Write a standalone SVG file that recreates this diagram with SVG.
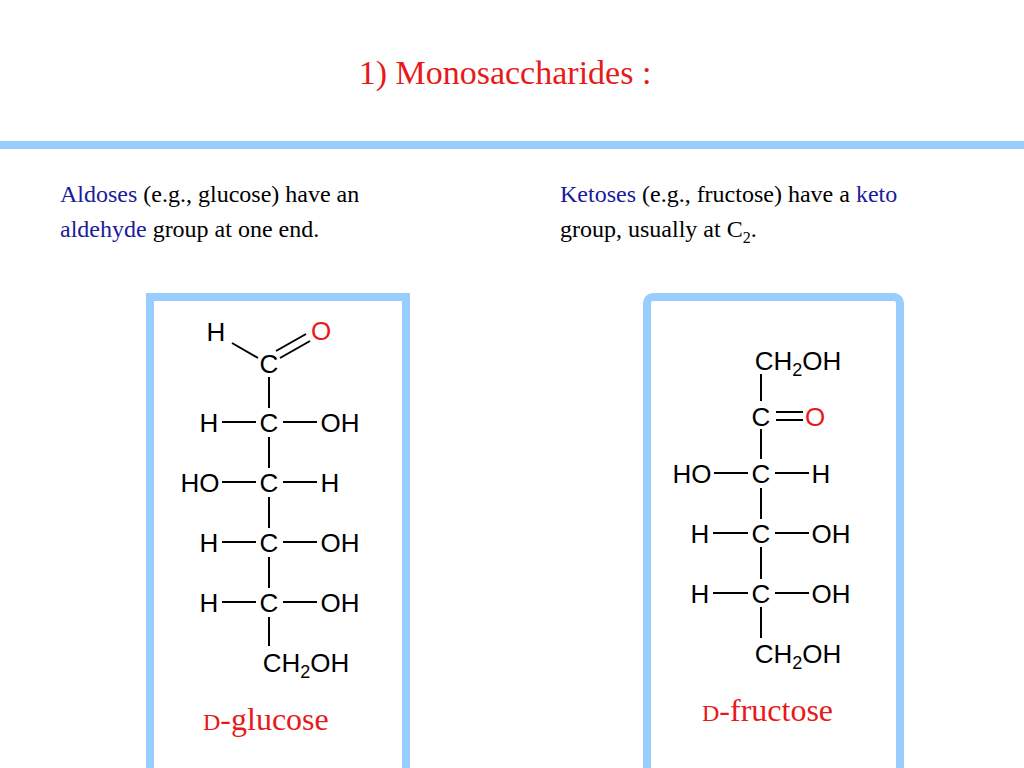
<svg xmlns="http://www.w3.org/2000/svg" width="1024" height="768" viewBox="0 0 1024 768">
<style>
.t{font-family:"Liberation Serif",serif;font-size:24px;fill:#000}
.b{fill:#1a1a9c}
.a{font-family:"Liberation Sans",Arial,sans-serif;font-size:26px;fill:#000;text-anchor:middle}
.r{fill:#e8191a}
.bond{stroke:#000;stroke-width:2;fill:none}
.box{fill:#fff;stroke:#99ccff;stroke-width:8}
.lbl{font-family:"Liberation Serif",serif;font-size:32px;fill:#e8191a}
</style>
<rect width="1024" height="768" fill="#fff"/>
<text x="505" y="84" text-anchor="middle" font-family="Liberation Serif,serif" font-size="34" fill="#e8191a">1) Monosaccharides :</text>
<line x1="0" y1="145" x2="1024" y2="145" stroke="#99ccff" stroke-width="8"/>
<text class="t" x="60" y="202"><tspan class="b">Aldoses</tspan> (e.g., glucose) have an</text>
<text class="t" x="60" y="237"><tspan class="b">aldehyde</tspan> group at one end.</text>
<text class="t" x="560" y="202"><tspan class="b">Ketoses</tspan> (e.g., fructose) have a <tspan class="b">keto</tspan></text>
<text class="t" x="560" y="237">group, usually at C<tspan font-size="16" dy="6">2</tspan><tspan dy="-6">.</tspan></text>
<g id="glucose">
<rect class="box" x="150" y="297" width="256" height="480"/>
<text class="a" x="216" y="341">H</text>
<text class="a r" x="321" y="340">O</text>
<text class="a" x="269" y="373">C</text>
<path class="bond" d="M232 343L258 358M276 351L306 334M280 358L310 341"/>
<path class="bond" d="M269 377V408M269 437V468M269 497V528M269 557V588M269 617V646"/>
<text class="a" x="209" y="432">H</text><text class="a" x="269" y="432">C</text><text class="a" x="340" y="432">OH</text>
<path class="bond" d="M222 422H256M283 422H317"/>
<text class="a" x="200" y="492">HO</text><text class="a" x="269" y="492">C</text><text class="a" x="330" y="492">H</text>
<path class="bond" d="M222 482H256M283 482H317"/>
<text class="a" x="209" y="552">H</text><text class="a" x="269" y="552">C</text><text class="a" x="340" y="552">OH</text>
<path class="bond" d="M222 542H256M283 542H317"/>
<text class="a" x="209" y="612">H</text><text class="a" x="269" y="612">C</text><text class="a" x="340" y="612">OH</text>
<path class="bond" d="M222 602H256M283 602H317"/>
<text class="a" x="306" y="672">CH<tspan font-size="18" dy="6">2</tspan><tspan dy="-6">OH</tspan></text>
<text class="lbl" x="203" y="730"><tspan font-size="24">D</tspan>-glucose</text>
</g>
<g id="fructose">
<rect class="box" x="647" y="297" width="253" height="480" rx="6"/>
<text class="a" x="798" y="370">CH<tspan font-size="18" dy="6">2</tspan><tspan dy="-6">OH</tspan></text>
<path class="bond" d="M761 374V401M761 429V459M761 488V519M761 547V579M761 607V638"/>
<text class="a" x="761" y="426">C</text><text class="a r" x="815" y="426">O</text>
<path class="bond" d="M776 412H803M776 420H803"/>
<text class="a" x="692" y="483">HO</text><text class="a" x="761" y="483">C</text><text class="a" x="821" y="483">H</text>
<path class="bond" d="M714 473H748M775 473H809"/>
<text class="a" x="700" y="543">H</text><text class="a" x="761" y="543">C</text><text class="a" x="831" y="543">OH</text>
<path class="bond" d="M713 533H748M775 533H809"/>
<text class="a" x="700" y="603">H</text><text class="a" x="761" y="603">C</text><text class="a" x="831" y="603">OH</text>
<path class="bond" d="M713 593H748M775 593H809"/>
<text class="a" x="798" y="663">CH<tspan font-size="18" dy="6">2</tspan><tspan dy="-6">OH</tspan></text>
<text class="lbl" x="702" y="721"><tspan font-size="24">D</tspan>-fructose</text>
</g>
</svg>
